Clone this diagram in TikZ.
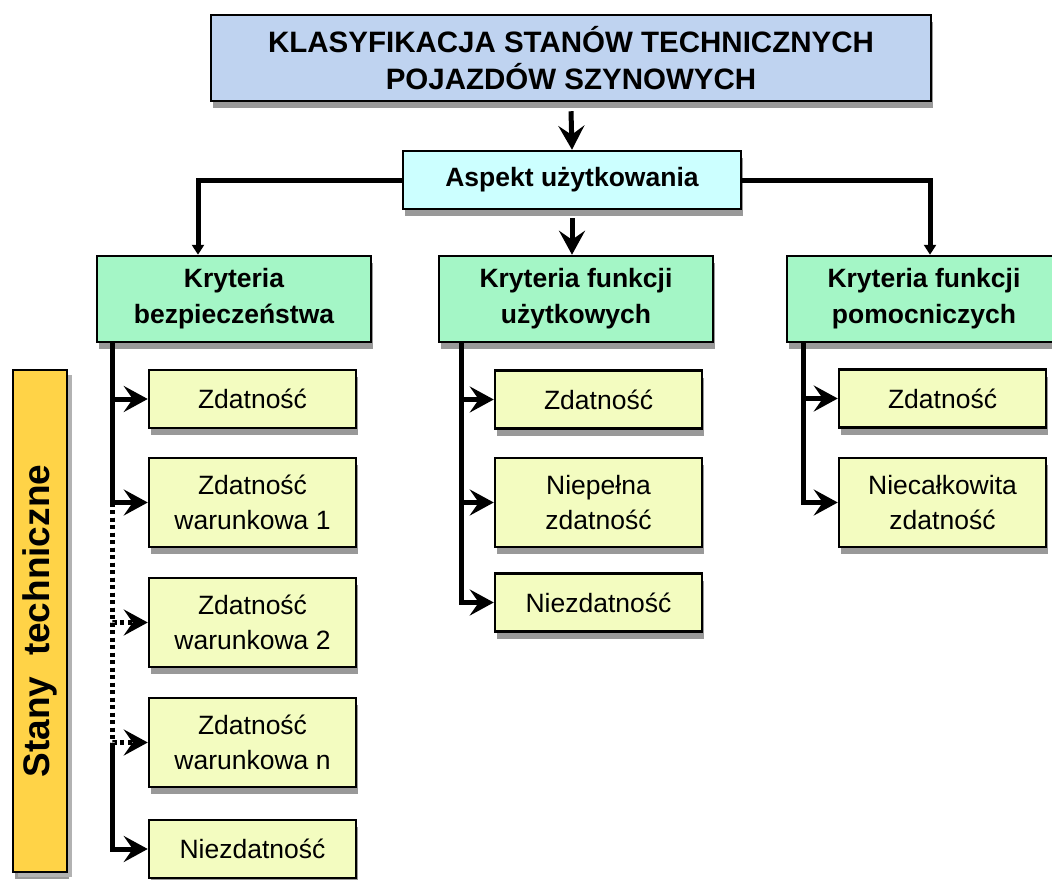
\documentclass[tikz,border=0pt]{standalone}
\usepackage{fontspec}
\setmainfont{Liberation Sans}
\usetikzlibrary{arrows.meta,shadows}
\definecolor{titleblue}{HTML}{BFD3F0}
\definecolor{aspcyan}{HTML}{CCFFFF}
\definecolor{critgreen}{HTML}{A4F6C6}
\definecolor{stateyellow}{HTML}{F3FCC0}
\definecolor{stanyorange}{HTML}{FFD347}
\tikzset{>={Stealth[length=24pt,width=26pt,inset=9pt]},
  box/.style={draw, line width=2.5pt, align=center, inner sep=0pt,
    drop shadow={shadow xshift=2pt, shadow yshift=-7pt, fill=black!40, opacity=1}},
  crit/.style={box, fill=critgreen, minimum width=274pt, minimum height=86pt,
    font=\bfseries\fontsize{26.5}{36}\selectfont},
  state/.style={box, fill=stateyellow, minimum width=207pt, minimum height=58pt,
    font=\fontsize{26.5}{35}\selectfont},
  tall/.style={minimum height=89pt},
  conn/.style={line width=5pt},
  dots/.style={dash pattern=on 4pt off 3.5pt},
  small/.style={-{Triangle[length=10pt,width=12pt]}}}

\begin{document}
\begin{tikzpicture}[x=1pt,y=-1pt]
     \useasboundingbox (0,0) rectangle (1052,880);
     \clip (0,0) rectangle (1052,880);
     \node[box, fill=titleblue, minimum width=720pt, minimum height=86pt,
       font=\bfseries\fontsize{29.5}{37}\selectfont] (title) at (571,58)
       {KLASYFIKACJA STANÓW TECHNICZNYCH\\POJAZDÓW SZYNOWYCH};
     \node[box, fill=aspcyan, minimum width=338pt, minimum height=58pt,
       font=\bfseries\fontsize{26.5}{36}\selectfont] (aspekt) at (572,180) {Aspekt użytkowania};
     \node[crit] (bezp) at (234,299) {Kryteria\\bezpieczeństwa};
     \node[crit] (uzyt) at (576,299) {Kryteria funkcji\\użytkowych};
     \node[crit] (pomoc) at (924,299) {Kryteria funkcji\\pomocniczych};
     \node[state] (z1) at (252.5,399) {Zdatność};
     \node[state, tall] (zw1) at (252.5,502.5) {Zdatność\\warunkowa 1};
     \node[state, tall] (zw2) at (252.5,622.5) {Zdatność\\warunkowa 2};
     \node[state, tall] (zwn) at (252.5,742.5) {Zdatność\\warunkowa n};
     \node[state] (nz1) at (252.5,849) {Niezdatność};
     \node[state] (z2) at (598.5,399.5) {Zdatność};
     \node[state, tall] (np) at (598.5,502.5) {Niepełna\\zdatność};
     \node[state] (nz2) at (598.5,602.5) {Niezdatność};
     \node[state] (z3) at (942.5,398.5) {Zdatność};
     \node[state, tall] (nc) at (942.5,502.5) {Niecałkowita\\zdatność};
     \node[box, fill=stanyorange, minimum width=54pt, minimum height=502pt,
       drop shadow={shadow xshift=5pt, shadow yshift=-5pt, fill=black!30, opacity=1},
       font=\bfseries\fontsize{37}{40}\selectfont] (stany) at (40,621)
       {\rotatebox{90}{Stany~~techniczne}};
     \draw[conn,->] ([yshift=-9pt]title.south) -- (aspekt.north);
     \draw[conn,->] ([yshift=-8pt]aspekt.south) -- (aspekt.south |- uzyt.north);
     \draw[conn,small] (aspekt.west) -| ([xshift=-36pt]bezp.north);
     \draw[conn,small] (aspekt.east) -| ([xshift=6pt]pomoc.north);
     \coordinate (k1) at ([xshift=17pt]bezp.south west);
     \coordinate (k2) at ([xshift=24pt]uzyt.south west);
     \coordinate (k3) at ([xshift=18pt]pomoc.south west);
     \draw[conn,->] (k1) |- (z1);
     \draw[conn,->] (k1) |- (zw1);
     \draw[conn,dots,->] (zw1 -| k1) |- (zw2);
     \draw[conn,dots,->] (zw1 -| k1) |- (zwn);
     \draw[conn,->] (zwn -| k1) |- (nz1);
     \draw[conn,->] (k2) |- (z2);
     \draw[conn,->] (k2) |- (np);
     \draw[conn,->] (k2) |- (nz2);
     \draw[conn,->] (k3) |- (z3);
     \draw[conn,->] (k3) |- (nc);
\end{tikzpicture}
\end{document}
